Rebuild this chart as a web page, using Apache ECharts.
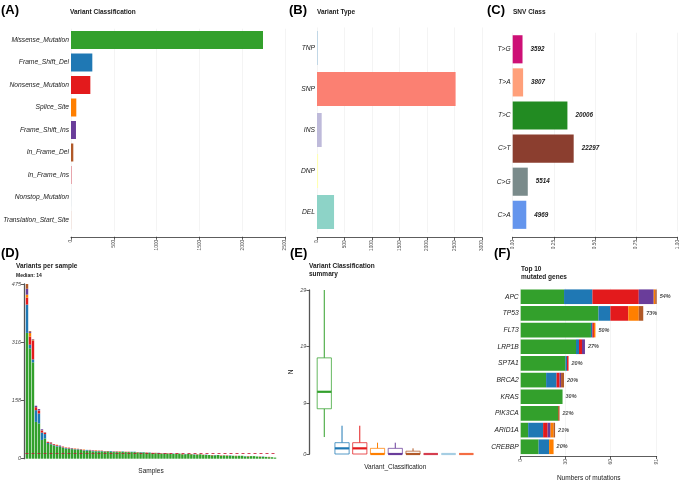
<!DOCTYPE html>
<html><head><meta charset="utf-8">
<script src="https://cdn.jsdelivr.net/npm/echarts@6/dist/echarts.min.js"></script>
<style>html,body{margin:0;padding:0;background:#fff}#c{width:685px;height:484px}</style>
</head><body><div id="c"></div>
<script>
// ---------- DATA ----------
const vcCats = ['Missense_Mutation','Frame_Shift_Del','Nonsense_Mutation','Splice_Site','Frame_Shift_Ins','In_Frame_Del','In_Frame_Ins','Nonstop_Mutation','Translation_Start_Site'];
const vcCounts = [2243,249,226,62,58,27,5,1,1];
const vcColors = ['#33A02C','#1F78B4','#E31A1C','#FF7F00','#6A3D9A','#B15928','#D53E4F','#A6CEE3','#F46D43'];
const vcTicks = [0,500,1000,1500,2000,2500];

const vtCats = ['TNP','SNP','INS','DNP','DEL'];
const vtCounts = [8,2520,85,20,310];
const vtColors = ['#80B1D3','#FB8072','#BEBADA','#FFFFB3','#8DD3C7'];
const vtTicks = [0,500,1000,1500,2000,2500,3000];

const snvCats = ['T>G','T>A','T>C','C>T','C>G','C>A'];
const snvCounts = [3592,3807,20006,22297,5514,4969];
const snvColors = ['#CD1076','#FFA07A','#228B22','#8B3E2F','#7A8B8B','#6495ED'];
const snvTicks = [0,0.25,0.5,0.75,1];

// per-sample stacked counts (panel D)
const dMis = [342,300,262,100,96,51,55,
  40,39,36,33,32,30,27,27,26,25,
  25,24,22,22,22,20,20,20,20,19,
  20,19,18,18,18,19,18,18,18,18,
  17,17,17,16,16,15,15,15,14,14,
  14,13,13,13,14,12,12,13,12,11,
  11,12,10,10,10,9,9,10,8,9,
  8,8,8,7,8,8,6,6,7,7,
  6,5,5,5,4,4,3];
const dFsd = [77,10,8,32,27,20,12,
  3,2,2,2,2,1,2,1,1,1,
  1,1,1,2,1,1,1,1,1,1,
  0,2,1,1,0,1,0,0,1,1,
  0,1,1,0,1,0,0,1,0,1,
  0,0,1,0,0,0,1,0,0,1,
  0,0,0,1,0,0,1,0,0,0,
  0,1,0,0,0,0,1,0,0,0,
  0,0,1,0,0,0,0];
const dNon = [19,22,50,8,7,5,3,
  3,2,2,2,1,2,1,2,1,1,
  1,1,1,0,1,1,1,1,1,1,
  1,0,1,1,1,0,1,1,0,0,
  1,0,0,1,0,1,1,0,1,0,
  1,1,0,1,0,1,0,0,1,0,
  1,0,1,0,0,1,0,0,1,0,
  1,0,0,1,0,0,0,1,0,0,
  0,1,0,0,1,0,0];
const dSpl = [8,10,2,0,1,1,1,
  0,1,0,1,0,0,1,0,0,1,
  0,0,1,0,0,0,1,0,0,0,
  0,0,0,0,1,0,0,0,0,0,
  0,0,0,0,0,0,0,0,0,0,
  0,0,0,0,0,0,0,0,0,0,
  0,0,0,0,0,0,0,0,0,0,
  0,0,0,0,0,0,0,0,0,0,
  0,0,0,0,0,0,0];
const dFsi = [16,3,2,4,4,3,1,
  0,1,0,0,1,0,0,0,1,0,
  0,0,0,0,0,1,0,0,0,0,
  0,0,0,0,0,0,0,0,0,0,
  0,0,0,0,0,0,0,0,0,0,
  0,0,0,0,0,0,0,0,0,0,
  0,0,0,0,0,0,0,0,0,0,
  0,0,0,0,0,0,0,0,0,0,
  0,0,0,0,0,0,0];
const dIfd = [13,2,1,0,0,0,0,
  0,0,0,0,0,0,0,0,0,0,
  0,0,0,0,0,0,0,0,0,0,
  0,0,0,0,0,0,0,0,0,0,
  0,0,0,0,0,0,0,0,0,0,
  0,0,0,0,0,0,0,0,0,0,
  0,0,0,0,0,0,0,0,0,0,
  0,0,0,0,0,0,0,0,0,0,
  0,0,0,0,0,0,0];
const dTicks = [0,158,316,475];
const dMedian = 14;

// box stats per classification (panel E): [min,q1,median,q3,max]
const boxStats = [
  [3,8,11,17,29],
  [0,0,1,2,5],
  [0,0,1,2,5],
  [0,0,0,1,2],
  [0,0,0,1,2],
  [0,0,0,0.5,1],
  [0,0,0,0,0],
  [0,0,0,0,0],
  [0,0,0,0,0]
];
const eTicks = [0,9,19,29];

// top 10 genes (panel F)
const genes = ['APC','TP53','FLT3','LRP1B','SPTA1','BRCA2','KRAS','PIK3CA','ARID1A','CREBBP'];
const gMis = [29,52,47,37,30,17,28,25,5,12];
const gFsd = [19,8,1,2,1,7,0,0,10,7];
const gNon = [31,12,1,2,1,2,0,0,3,0];
const gFsi = [10,0,0,2,0,1,0,0,2,0];
const gSpl = [1,7,1,0,0,0,0,0,2,3];
const gIfd = [1,3,0,0,0,2,0,1,1,0];
const gPct = ['54%','73%','50%','27%','20%','20%','30%','22%','21%','20%'];
const fTicks = [0,30,60,91];

// ---------- CHART ----------
const FONT = '"Liberation Sans", Arial, Helvetica, sans-serif';
const chart = echarts.init(document.getElementById('c'), null, {renderer:'canvas'});
const gridLine = {show:true, lineStyle:{color:'#EDEDED', width:0.6}};
const tickLbl = {color:'#4D4D4D', fontSize:4.8, fontFamily:FONT};
const catLbl = {color:'#1A1A1A', fontSize:6.7, fontStyle:'italic', fontFamily:FONT, margin:2};
const axLine = {show:true, lineStyle:{color:'#333', width:0.8}};
const axTick = {show:true, length:3, lineStyle:{color:'#333', width:0.8}};
const axLineV = {show:true, lineStyle:{color:'#555', width:1.3}};
const nameStyle = {fontSize:6.5, color:'#1A1A1A', fontFamily:FONT};

function valueX(grid, max, ticks, offset, fmt){
  return {type:'value', gridIndex:grid, min:0, max:max, offset:offset,
    axisLine:axLine, axisTick:Object.assign({customValues:ticks}, axTick),
    axisLabel:Object.assign({rotate:90, margin:3, customValues:ticks, formatter:fmt||(v=>String(v))}, tickLbl),
    splitLine:gridLine};
}
function catY(grid, cats){
  return {type:'category', gridIndex:grid, data:cats, inverse:true,
    axisLine:{show:false}, axisTick:{show:false}, axisLabel:catLbl,
    splitLine:{show:false}};
}

const titleStyle = {fontSize:6.5, fontWeight:'bold', color:'#1A1A1A', fontFamily:FONT, lineHeight:8};
const panelStyle = {fontSize:13, fontWeight:'bold', color:'#000', fontFamily:FONT};
const titles = [
  {text:'(A)', left:1, top:4, textStyle:panelStyle},
  {text:'Variant Classification', left:70, top:8, textStyle:titleStyle},
  {text:'(B)', left:289, top:4, textStyle:panelStyle},
  {text:'Variant Type', left:317, top:8, textStyle:titleStyle},
  {text:'(C)', left:487, top:4, textStyle:panelStyle},
  {text:'SNV Class', left:513, top:8, textStyle:titleStyle},
  {text:'(D)', left:1, top:247, textStyle:panelStyle},
  {text:'Variants per sample', left:16, top:262, textStyle:titleStyle},
  {text:'Median: ' + dMedian, left:16, top:271.5, textStyle:Object.assign({}, titleStyle, {fontSize:5})},
  {text:'(E)', left:290, top:247, textStyle:panelStyle},
  {text:'Variant Classification\nsummary', left:309, top:262, textStyle:titleStyle},
  {text:'(F)', left:494, top:247, textStyle:panelStyle},
  {text:'Top 10\nmutated genes', left:521, top:265, textStyle:titleStyle}
].map(t => Object.assign({padding:0, itemGap:0}, t));

const G = {outerBoundsMode:'none', containLabel:false};
const grids = [
  {left:71, top:28.75, width:214, height:202.5},   // A
  {left:317, top:27.5, width:165, height:205},     // B
  {left:512.7, top:32.75, width:164.6, height:198.6}, // C
  {left:25.5, top:284, width:251, height:174.7},   // D
  {left:315.4, top:290, width:159.75, height:164}, // E
  {left:520.7, top:288.4, width:136, height:166.7} // F
].map(g => Object.assign({}, G, g));

const xAxes = [
  valueX(0, 2500, vcTicks, 5.5),
  valueX(1, 3000, vtTicks, 4.8),
  valueX(2, 1, snvTicks, 5.5, v => v.toFixed(2)),
  {type:'category', gridIndex:3, data:dMis.map((_, i) => 'S' + (i + 1)),
    axisLine:{show:false}, axisTick:{show:false}, axisLabel:{show:false},
    name:'Samples', nameLocation:'middle', nameGap:9, nameTextStyle:nameStyle},
  {type:'category', gridIndex:4, data:vcCats,
    axisLine:{show:false}, axisTick:{show:false}, axisLabel:{show:false},
    name:'Variant_Classification', nameLocation:'middle', nameGap:10, nameTextStyle:nameStyle},
  Object.assign(valueX(5, 91, fTicks, 1), {name:'Numbers of mutations', nameLocation:'middle', nameGap:19,
    nameTextStyle:nameStyle})
];

const yAxes = [
  catY(0, vcCats),
  catY(1, vtCats),
  catY(2, snvCats),
  {type:'value', gridIndex:3, min:0, max:475, offset:1.5,
    axisLine:axLineV, axisTick:Object.assign({customValues:dTicks}, axTick),
    axisLabel:Object.assign({customValues:dTicks, margin:3, fontStyle:'italic'}, tickLbl, {fontSize:5.5}),
    splitLine:{show:false}},
  {type:'value', gridIndex:4, min:0, max:29, offset:6,
    axisLine:axLineV, axisTick:Object.assign({customValues:eTicks}, axTick),
    axisLabel:Object.assign({customValues:eTicks, margin:3, fontStyle:'italic'}, tickLbl, {fontSize:5.5}),
    splitLine:{show:false},
    name:'N', nameLocation:'middle', nameGap:15, nameRotate:90, nameTextStyle:nameStyle},
  catY(5, genes)
];

const series = [];
// A
series.push({type:'bar', xAxisIndex:0, yAxisIndex:0, barCategoryGap:'20%',
  data:vcCounts.map((v, i) => ({value:v, itemStyle:{color:vcColors[i]}}))});
// B
series.push({type:'bar', xAxisIndex:1, yAxisIndex:1, barCategoryGap:'17%',
  data:vtCounts.map((v, i) => ({value:v, itemStyle:{color:vtColors[i]}}))});
// C
const snvTotal = snvCounts.reduce((a, b) => a + b, 0);
series.push({type:'bar', xAxisIndex:2, yAxisIndex:2, barCategoryGap:'15%',
  data:snvCounts.map((v, i) => ({value:v / snvTotal, itemStyle:{color:snvColors[i]}})),
  label:{show:true, position:'right', distance:8, formatter:p => String(snvCounts[p.dataIndex]),
    fontSize:6.3, fontWeight:'bold', fontStyle:'italic', color:'#1A1A1A', fontFamily:FONT}});
// D stacked
const dSets = [dMis, dFsd, dNon, dSpl, dFsi, dIfd];
const dCols = [vcColors[0], vcColors[1], vcColors[2], vcColors[3], vcColors[4], vcColors[5]];
dSets.forEach((arr, k) => {
  const s = {type:'bar', xAxisIndex:3, yAxisIndex:3, stack:'d', barCategoryGap:'18%',
    data:arr, itemStyle:{color:dCols[k]}};
  if (k === 0) {
    s.markLine = {symbol:'none', silent:true, label:{show:false},
      lineStyle:{color:'#C8102E', type:[3,3], width:0.8}, data:[{yAxis:dMedian}]};
  }
  series.push(s);
});
// E custom boxplots
series.push({type:'custom', xAxisIndex:4, yAxisIndex:4,
  data:boxStats.map((b, i) => [i].concat(b)),
  encode:{x:0, y:[1,2,3,4,5]},
  renderItem:(params, api) => {
    const i = api.value(0);
    const col = vcColors[i];
    const x = api.coord([i, 0])[0];
    const bw = api.size([1, 0])[0] * 0.8;
    const y = v => api.coord([i, v])[1];
    const yMin = y(api.value(1)), yQ1 = y(api.value(2)), yMd = y(api.value(3)), yQ3 = y(api.value(4)), yMax = y(api.value(5));
    return {type:'group', children:[
      {type:'line', shape:{x1:x, y1:yMax, x2:x, y2:yQ3}, style:{stroke:col, lineWidth:1}},
      {type:'line', shape:{x1:x, y1:yQ1, x2:x, y2:yMin}, style:{stroke:col, lineWidth:1}},
      {type:'rect', shape:{x:x - bw / 2, y:yQ3, width:bw, height:Math.max(yQ1 - yQ3, 0)},
        style:{fill:'#fff', stroke:col, lineWidth:1, opacity:0.75}},
      {type:'line', shape:{x1:x - bw / 2, y1:yMd, x2:x + bw / 2, y2:yMd}, style:{stroke:col, lineWidth:2.2}}
    ]};
  }});
// F stacked
const fSets = [gMis, gFsd, gNon, gFsi, gSpl, gIfd];
const fCols = [vcColors[0], vcColors[1], vcColors[2], vcColors[4], vcColors[3], vcColors[5]];
fSets.forEach((arr, k) => {
  series.push({type:'bar', xAxisIndex:5, yAxisIndex:5, stack:'f', barCategoryGap:'12%',
    data:arr, itemStyle:{color:fCols[k]}});
});
const gTotals = genes.map((g, i) => fSets.reduce((a, arr) => a + arr[i], 0));
series.push({type:'scatter', xAxisIndex:5, yAxisIndex:5, symbolSize:0,
  data:gTotals.map((t, i) => [t, i]),
  label:{show:true, position:'right', distance:3, formatter:p => gPct[p.dataIndex],
    fontSize:5.5, fontWeight:'bold', fontStyle:'italic', color:'#1A1A1A', fontFamily:FONT}});

chart.setOption({
  animation:false,
  backgroundColor:'#fff',
  textStyle:{fontFamily:FONT},
  title:titles,
  grid:grids,
  xAxis:xAxes,
  yAxis:yAxes,
  series:series
});
</script></body></html>
